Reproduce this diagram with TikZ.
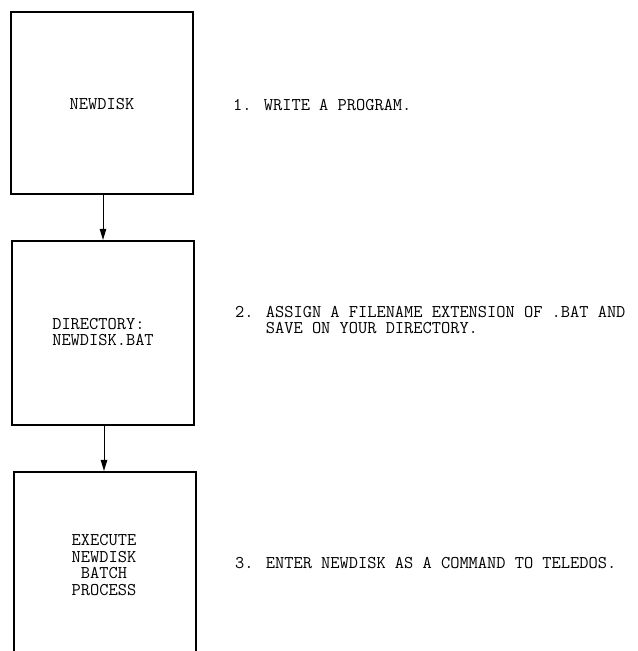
\documentclass[tikz,border=0pt]{standalone}
\usepackage{fontspec}
\usetikzlibrary{arrows.meta}
\begin{document}
\begin{tikzpicture}[x=1bp,y=-1bp,
  box/.style={draw, line width=2.2bp, minimum width=182bp, inner sep=0pt},
  txt/.style={font=\ttfamily\fontsize{17.9bp}{16.5bp}\selectfont, inner sep=0pt, anchor=west},
  conn/.style={line width=0.9bp, -{Triangle[length=11bp,width=6.5bp]}}]
\useasboundingbox (0,0) rectangle (638,651);
\clip (0,0) rectangle (638,651);
\node[box, minimum height=182bp] (b1) at (102,103) {};
\node[box, minimum height=184bp] (b2) at (103,333) {};
\node[box, minimum height=200bp] (b3) at (105,572) {};
\node[txt, anchor=center] (t1) at (102,104) {NEWDISK};
\node[txt, align=left, anchor=center] (t2) at (103,332) {DIRECTORY:\\NEWDISK.BAT};
\node[txt, align=center, anchor=center] (t3) at (104,565) {EXECUTE\\NEWDISK\\BATCH\\PROCESS};
\draw[conn] ([xshift=1bp]b1.south) -- ([xshift=1bp]b1.south |- b2.north);
\draw[conn] ([xshift=1bp]b2.south) -- ([xshift=1bp]b2.south |- b3.north);
\node[txt] (s1) at (233,105) {1. WRITE A PROGRAM.};
\node[txt, align=left, anchor=north west] (s2) at (235,306) {2. ASSIGN A FILENAME EXTENSION OF .BAT AND\\\phantom{2. }SAVE ON YOUR DIRECTORY.};
\node[txt] (s3) at (235,563) {3. ENTER NEWDISK AS A COMMAND TO TELEDOS.};
\end{tikzpicture}
\end{document}
